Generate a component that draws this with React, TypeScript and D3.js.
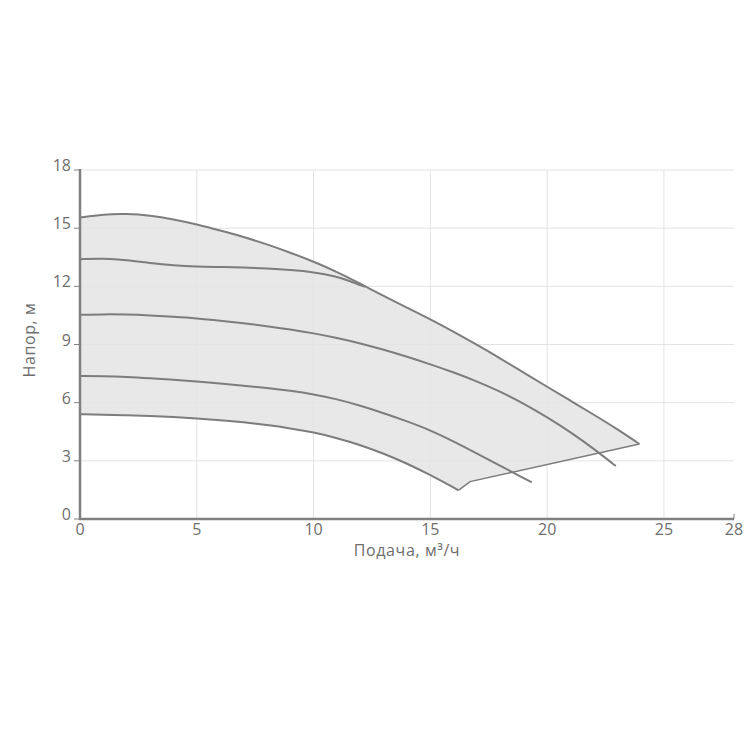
import React from "react";
import * as d3 from "d3";

// Flow (m³/h) and head (m) readings for each curve
const curveMaxX = [0, 1, 2, 3, 4, 5, 6, 7, 8, 9, 10, 11, 12, 13, 14, 15, 16, 17, 18, 19, 20, 21, 22, 23, 23.95];
const curveMaxY = [15.55, 15.72, 15.75, 15.66, 15.46, 15.2, 14.88, 14.55, 14.17, 13.74, 13.28, 12.75, 12.14, 11.5, 10.9, 10.3, 9.65, 8.98, 8.28, 7.55, 6.82, 6.1, 5.38, 4.64, 3.87];

const curve2X = [0, 1, 2, 3, 4, 5, 6, 7, 8, 9, 10, 11, 11.5, 12.2];
const curve2Y = [13.4, 13.44, 13.36, 13.2, 13.08, 13.02, 13.0, 12.97, 12.92, 12.85, 12.74, 12.5, 12.3, 11.97];

const curve3X = [0, 1, 2, 3, 4, 5, 6, 7, 8, 9, 10, 11, 12, 13, 14, 15, 16, 17, 18, 19, 20, 21, 22, 22.94];
const curve3Y = [10.53, 10.56, 10.55, 10.5, 10.43, 10.35, 10.23, 10.1, 9.95, 9.78, 9.58, 9.34, 9.06, 8.73, 8.37, 7.98, 7.56, 7.1, 6.57, 5.95, 5.25, 4.48, 3.62, 2.73];

const curve4X = [0, 1, 2, 3, 4, 5, 6, 7, 8, 9, 10, 11, 12, 13, 14, 15, 16, 17, 18, 19, 19.34];
const curve4Y = [7.38, 7.37, 7.33, 7.26, 7.18, 7.09, 6.99, 6.88, 6.76, 6.62, 6.44, 6.18, 5.85, 5.46, 5.04, 4.58, 4.0, 3.38, 2.74, 2.1, 1.89];

const curveMinX = [0, 1, 2, 3, 4, 5, 6, 7, 8, 9, 10, 11, 12, 13, 14, 15, 16, 16.2];
const curveMinY = [5.4, 5.38, 5.35, 5.31, 5.26, 5.19, 5.1, 4.99, 4.85, 4.68, 4.47, 4.18, 3.82, 3.38, 2.86, 2.27, 1.62, 1.48];

// Lower edge of the working zone (end points of each speed curve)
const edgeX = [23.95, 16.7, 16.2];
const edgeY = [3.87, 1.93, 1.48];

const xTicks = [0, 5, 10, 15, 20, 25, 28];
const yTicks = [0, 3, 6, 9, 12, 15, 18];
const xTitle = "Подача, м³/ч";
const yTitle = "Напор, м";

type P = [number, number];
const zip = (xs: number[], ys: number[]): P[] => xs.map((x, i) => [x, ys[i]]);

export default function App() {
  const W = 750, H = 750;
  const left = 80, right = 734, top = 170, bottom = 519;
  const x = d3.scaleLinear().domain([0, 28]).range([left, right]);
  const y = d3.scaleLinear().domain([0, 18]).range([bottom, top]);

  const line = d3
    .line<P>()
    .x((d) => x(d[0]))
    .y((d) => y(d[1]))
    .curve(d3.curveBasis);
  const straight = d3
    .line<P>()
    .x((d) => x(d[0]))
    .y((d) => y(d[1]));

  const cMax = zip(curveMaxX, curveMaxY);
  const c2 = zip(curve2X, curve2Y);
  const c3 = zip(curve3X, curve3Y);
  const c4 = zip(curve4X, curve4Y);
  const cMin = zip(curveMinX, curveMinY);
  const edge = zip(edgeX, edgeY);

  const areaPath =
    (line(cMax) || "") +
    (straight(edge) || "").replace(/^M/, "L") +
    (line(cMin.slice().reverse()) || "").replace(/^M/, "L") +
    `L${x(0)},${y(cMin[0][1])}Z`;

  const gridColor = "#e3e3e3";
  const axisColor = "#808080";
  const textColor = "#6e6e6e";
  const curveColor = "#7d7d7d";
  const font = "'Open Sans', sans-serif";

  return (
    <svg width={W} height={H} style={{ position: "absolute", left: 0, top: 0, background: "#fff" }}>
      {/* grid */}
      {yTicks.filter((t) => t > 0).map((t) => (
        <line key={"gy" + t} x1={left} x2={right} y1={y(t)} y2={y(t)} stroke={gridColor} strokeWidth={1} />
      ))}
      {xTicks.filter((t) => t > 0 && t < 28).map((t) => (
        <line key={"gx" + t} x1={x(t)} x2={x(t)} y1={top} y2={bottom} stroke={gridColor} strokeWidth={1} />
      ))}

      {/* working zone */}
      <path d={areaPath} fill="#e4e4e4" fillOpacity={0.85} stroke="none" />

      {/* curves */}
      {[cMin, c4, c3, c2, cMax].map((c, i) => (
        <path key={"c" + i} d={line(c) || ""} fill="none" stroke={curveColor} strokeWidth={2} />
      ))}
      <path d={straight(edge) || ""} fill="none" stroke={curveColor} strokeWidth={1.5} />

      {/* axes */}
      <line x1={left} x2={left} y1={top - 1} y2={bottom + 1} stroke={axisColor} strokeWidth={2.5} />
      <line x1={left - 1} x2={right} y1={bottom} y2={bottom} stroke={axisColor} strokeWidth={2.5} />
      {yTicks.map((t) => (
        <line key={"ty" + t} x1={left - 6} x2={left} y1={y(t)} y2={y(t)} stroke={axisColor} strokeWidth={1} />
      ))}
      <line x1={x(28)} x2={x(28)} y1={bottom - 5} y2={bottom} stroke={axisColor} strokeWidth={1} />

      {/* tick labels */}
      {yTicks.map((t) => (
        <text key={"ly" + t} x={left - 9} y={y(t) + 1} textAnchor="end" fontSize={16} fill={textColor} fontFamily={font}>
          {t}
        </text>
      ))}
      {xTicks.map((t) => (
        <text key={"lx" + t} x={x(t)} y={bottom + 16} textAnchor="middle" fontSize={16} fill={textColor} fontFamily={font}>
          {t}
        </text>
      ))}

      {/* titles */}
      <text
        x={(left + right) / 2}
        y={556}
        textAnchor="middle"
        fontSize={16}
        letterSpacing={0.6}
        fill={textColor}
        fontFamily={font}
      >
        {xTitle}
      </text>
      <text
        transform={`translate(35, 340) rotate(-90)`}
        textAnchor="middle"
        fontSize={16}
        letterSpacing={0.6}
        fill={textColor}
        fontFamily={font}
      >
        {yTitle}
      </text>
    </svg>
  );
}
